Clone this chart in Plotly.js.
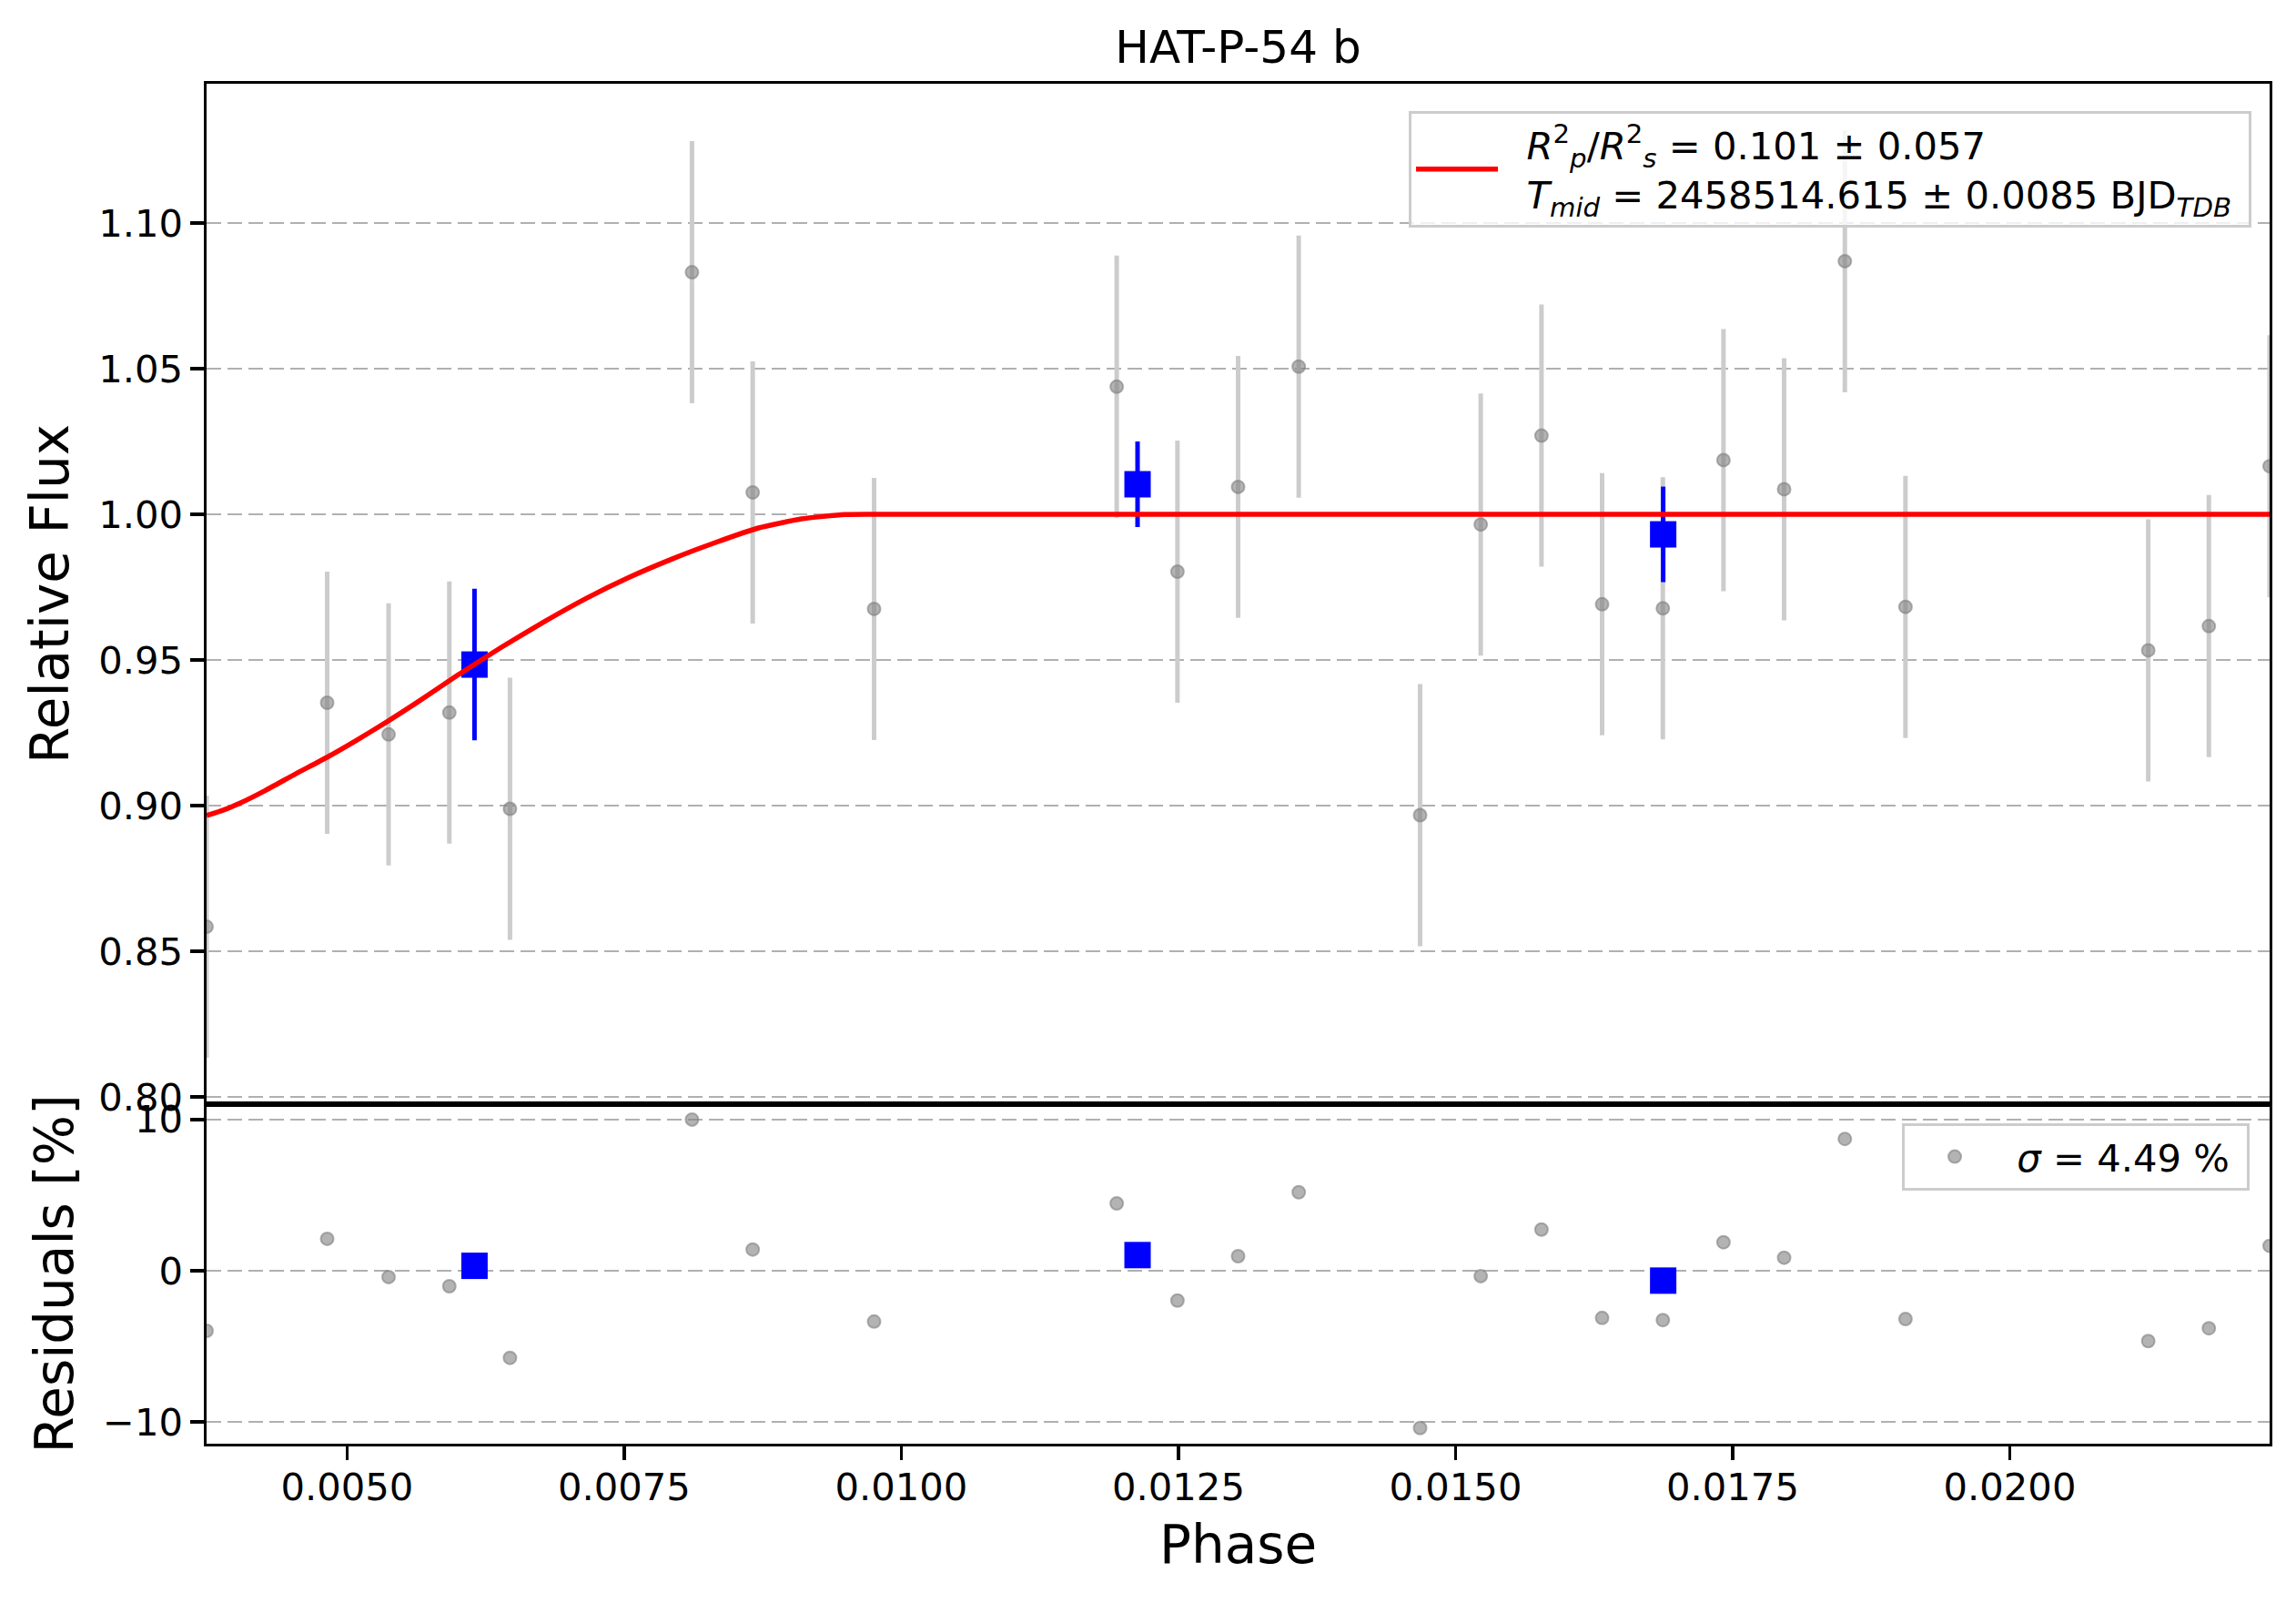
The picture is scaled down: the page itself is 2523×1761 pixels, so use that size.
<!DOCTYPE html>
<html>
<head>
<meta charset="utf-8">
<script src="https://cdn.plot.ly/plotly-3.0.1.min.js"></script>
<style>
    html, body { margin: 0; padding: 0; background: #fff; }
    #plotContainer { width: 2523px; height: 1761px; }
</style>
</head>
<body>
<div id="plotContainer"></div>
<script>
const phase = [0.003732, 0.004820, 0.005374, 0.005922, 0.006469, 0.008111, 0.008659, 0.009754,
    0.011943, 0.012491, 0.013038, 0.013585, 0.014680, 0.015227, 0.015775, 0.016322,
    0.016870, 0.017417, 0.017964, 0.018512, 0.019059, 0.021249, 0.021796, 0.022344];
const flux = [0.8584, 0.9353, 0.9244, 0.9319, 0.8989, 1.0831, 1.0075, 0.9675,
    1.0438, 0.9803, 1.0094, 1.0507, 0.8967, 0.9965, 1.0270, 0.9691,
    0.9677, 1.0186, 1.0086, 1.0869, 0.9682, 0.9533, 0.9616, 1.0165];
const fluxErr = [0.045, 0.045, 0.045, 0.045, 0.045, 0.045, 0.045, 0.045,
    0.045, 0.045, 0.045, 0.045, 0.045, 0.045, 0.045, 0.045,
    0.045, 0.045, 0.045, 0.045, 0.045, 0.045, 0.045, 0.045];
const residuals = [-3.98, 2.11, -0.42, -1.03, -5.77, 10.0, 1.40, -3.37,
    4.45, -1.98, 0.96, 5.19, -10.41, -0.36, 2.72, -3.13,
    -3.27, 1.88, 0.86, 8.72, -3.20, -4.66, -3.81, 1.64];

// Binned points
const binPhase = [0.006149, 0.012131, 0.016873];
const binFlux = [0.9484, 1.0103, 0.9931];
const binErr = [0.026, 0.0147, 0.0164];
const binResiduals = [0.32, 1.03, -0.66];

// Transit model
const modelPhase = [0.003732, 0.003879, 0.004043, 0.004263, 0.004536, 0.004810, 0.005084, 0.005357,
    0.005631, 0.005999, 0.006386, 0.006773, 0.007161, 0.007548, 0.007936, 0.008323,
    0.008711, 0.009098, 0.009486, 0.009750, 0.022344];
const modelFlux = [0.8966, 0.8984, 0.9010, 0.9052, 0.9109, 0.9164, 0.9224, 0.9287,
    0.9354, 0.9448, 0.9542, 0.9630, 0.9712, 0.9784, 0.9847, 0.9903,
    0.9953, 0.9984, 0.9999, 1.0000, 1.0000];

// Tick labels
const fluxTicks = [0.80, 0.85, 0.90, 0.95, 1.00, 1.05, 1.10];
const residTicks = [-10, 0, 10];
const phaseTicks = [0.005, 0.0075, 0.01, 0.0125, 0.015, 0.0175, 0.02];

const FONT = 'DejaVu Sans';
const NBSP = '\u00a0';
const tickFont = { family: FONT, size: 41.7, color: '#000' };
const labelFont = { family: FONT, size: 58, color: '#000' };
const grayMarker = {
    symbol: 'circle', size: 14, color: 'rgba(128,128,128,0.6)',
    line: { color: 'rgba(128,128,128,0.6)', width: 2 }
};

const traces = [
    {
        x: phase, y: flux,
        error_y: { type: 'data', array: fluxErr, visible: true, color: '#cccccc', thickness: 5, width: 0 },
        type: 'scatter', mode: 'markers', marker: grayMarker,
        xaxis: 'x', yaxis: 'y', showlegend: false, hoverinfo: 'skip'
    },
    {
        x: binPhase, y: binFlux,
        error_y: { type: 'data', array: binErr, visible: true, color: '#0000ff', thickness: 5, width: 0 },
        type: 'scatter', mode: 'markers',
        marker: { symbol: 'square', size: 29, color: '#0000ff' },
        xaxis: 'x', yaxis: 'y', showlegend: false, hoverinfo: 'skip'
    },
    {
        x: modelPhase, y: modelFlux,
        type: 'scatter', mode: 'lines',
        line: { color: '#ff0000', width: 5.5, shape: 'spline', smoothing: 0.5 },
        name: NBSP + NBSP + '<i>R</i><sup>2</sup><sub><i>p</i></sub>/<i>R</i><sup>2</sup><sub><i>s</i></sub> = 0.101 ± 0.057<br>' +
              NBSP + NBSP + '<i>T</i><sub><i>mid</i></sub> = 2458514.615 ± 0.0085 BJD<sub><i>TDB</i></sub>' + NBSP,
        xaxis: 'x', yaxis: 'y', legend: 'legend', hoverinfo: 'skip'
    },
    {
        x: phase, y: residuals,
        type: 'scatter', mode: 'markers', marker: grayMarker,
        name: NBSP + '<i>σ</i> = 4.49 %' + NBSP,
        xaxis: 'x2', yaxis: 'y2', legend: 'legend2', hoverinfo: 'skip'
    },
    {
        x: binPhase, y: binResiduals,
        type: 'scatter', mode: 'markers',
        marker: { symbol: 'square', size: 29, color: '#0000ff' },
        xaxis: 'x2', yaxis: 'y2', showlegend: false, hoverinfo: 'skip'
    }
];

const axisLine = { showline: true, linecolor: '#000', linewidth: 3, mirror: true, zeroline: false };
const tickStyle = { ticks: 'outside', ticklen: 14.6, tickwidth: 3.3, tickcolor: '#000', tickfont: tickFont };
const gridStyle = { showgrid: true, gridcolor: '#b0b0b0', gridwidth: 2.5, griddash: '16px,7px' };
const legendBox = {
    xref: 'paper', yref: 'paper', xanchor: 'right', yanchor: 'top',
    bgcolor: 'rgba(255,255,255,0.8)', bordercolor: '#cccccc', borderwidth: 3,
    font: { family: FONT, size: 41.7, color: '#000' }
};

const layout = {
    width: 2523,
    height: 1761,
    margin: { l: 227, r: 29, t: 92, b: 175 },
    paper_bgcolor: '#fff',
    plot_bgcolor: '#fff',
    font: { family: FONT, color: '#000' },
    title: {
        text: 'HAT-P-54 b',
        font: { family: FONT, size: 50, color: '#000' },
        x: 0.5, xref: 'paper', xanchor: 'center',
        y: 1 - 51 / 1761, yref: 'container', yanchor: 'middle'
    },
    xaxis: {
        ...axisLine,
        range: [0.003732, 0.022344],
        anchor: 'y',
        showticklabels: false, ticks: '',
        showgrid: false
    },
    xaxis2: {
        ...axisLine, ...tickStyle,
        range: [0.003732, 0.022344],
        anchor: 'y2', matches: 'x',
        tickvals: phaseTicks,
        ticktext: phaseTicks.map(v => v.toFixed(4)),
        ticklabelstandoff: -6,
        showgrid: false,
        title: { text: 'Phase', font: labelFont, standoff: 20 }
    },
    yaxis: {
        ...axisLine, ...tickStyle, ...gridStyle,
        domain: [0.2497, 1],
        range: [0.7975, 1.1478],
        anchor: 'x',
        tickvals: fluxTicks,
        ticktext: fluxTicks.map(v => v.toFixed(2)),
        title: { text: 'Relative Flux', font: labelFont, standoff: 14 }
    },
    yaxis2: {
        ...axisLine, ...tickStyle, ...gridStyle,
        domain: [0, 0.2497],
        range: [-11.45, 11.02],
        anchor: 'x2',
        tickvals: residTicks,
        ticktext: residTicks.map(v => (v < 0 ? '\u2212' + Math.abs(v) : String(v))),
        title: { text: 'Residuals [%]', font: labelFont, standoff: 14 }
    },
    legend: { ...legendBox, x: 0.9912, y: 0.9799, itemwidth: 90 },
    legend2: { ...legendBox, x: 0.9903, y: 0.2356, itemwidth: 100 },
    showlegend: true
};

const config = { responsive: false, displayModeBar: false, staticPlot: true };

Plotly.newPlot('plotContainer', traces, layout, config);
</script>
</body>
</html>
